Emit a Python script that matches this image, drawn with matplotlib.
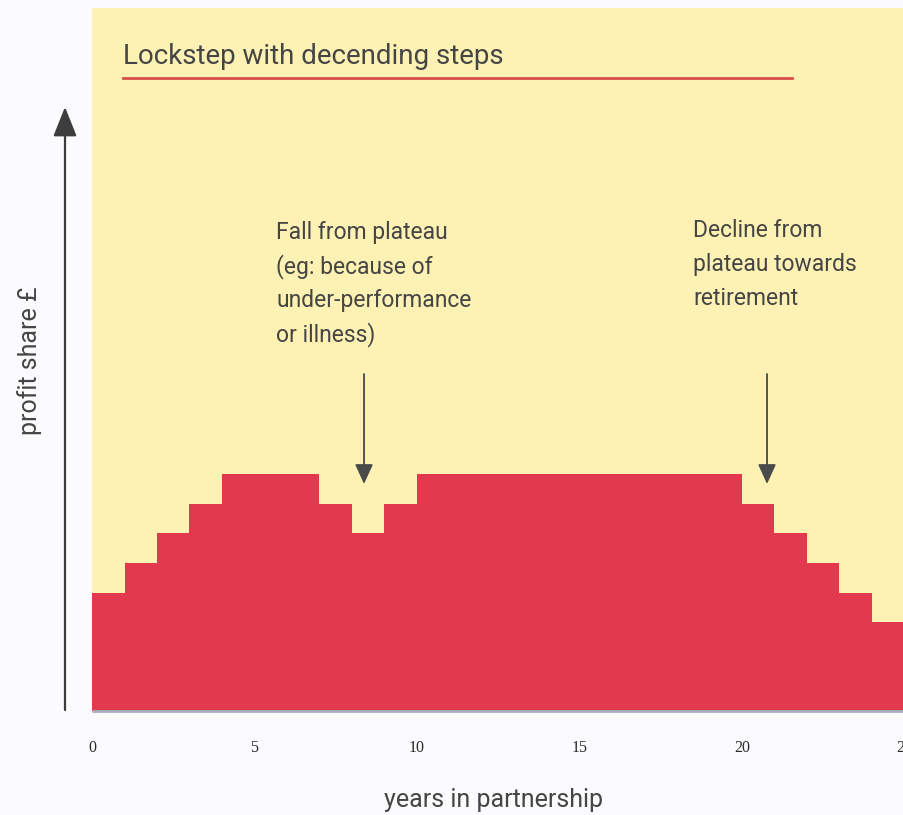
import matplotlib
matplotlib.use("Agg")
import matplotlib.pyplot as plt
import numpy as np

# ---- data ----
years = list(range(0, 26))                      # step edges (years in partnership)
profit_steps = [4, 5, 6, 7, 8, 8, 8, 7, 6, 7,
                8, 8, 8, 8, 8, 8, 8, 8, 8, 8,
                7, 6, 5, 4, 3]                   # profit share level per year
tick_years = [0, 5, 10, 15, 20, 25]
tick_labels = ["0", "5", "10", "15", "20", "25"]
title = "Lockstep with decending steps"
note1 = ["Fall from plateau", "(eg: because of", "under-performance", "or illness)"]
note2 = ["Decline from", "plateau towards", "retirement"]
note1_year = 8.37
note2_year = 20.77

# ---- style ----
W, H = 904, 815
YELLOW = "#fdf2b3"
RED = "#e2394f"
TXT = "#454545"
SANS = "Roboto"

fig = plt.figure(figsize=(W / 100, H / 100), dpi=100)
fig.patch.set_facecolor("#fbfbfd")

px_per_year = 32.5
px_per_unit = 29.6
left_px, base_px, top_px = 92, 711, 8
xmax = 25.3
ymax = (base_px - top_px) / px_per_unit

ax = fig.add_axes([left_px / W, (H - base_px) / H, xmax * px_per_year / W, (base_px - top_px) / H])
ax.set_facecolor(YELLOW)
ax.set_xlim(0, xmax)
ax.set_ylim(0, ymax)
for s in ax.spines.values():
    s.set_visible(False)

ax.stairs(profit_steps, years, fill=True, color=RED, lw=0)
ax.plot([0, xmax], [0, 0], color="#a7afc0", lw=2, clip_on=False, solid_capstyle="butt")

ax.set_yticks([])
ax.set_xticks(tick_years)
ax.set_xticklabels(tick_labels, family="Liberation Serif", fontsize=11.5, color="#2a2a2a")
ax.tick_params(axis="x", length=0, pad=21)

# title and underline
ax.text(0.95, 22.1, title, family=SANS, fontsize=20, color=TXT, va="center", ha="left")
ax.plot([0.95, 21.54], [21.39, 21.39], color="#d9504a", lw=2)

# annotation texts
def put_lines(lines, x, y_top):
    for i, line in enumerate(lines):
        ax.text(x, y_top - i * 34 / px_per_unit, line, family=SANS, fontsize=16.5,
                color=TXT, va="baseline", ha="left")

put_lines(note1, (276 - left_px) / px_per_year, (base_px - 239) / px_per_unit)
put_lines(note2, (693 - left_px) / px_per_year, (base_px - 237) / px_per_unit)

arrow_kw = dict(arrowstyle="-|>,head_length=0.55,head_width=0.25", mutation_scale=22,
                color="#4a4a4a", lw=1.3, shrinkA=0, shrinkB=0)
for xv in (note1_year, note2_year):
    ax.annotate("", xy=(xv, (base_px - 484) / px_per_unit),
                xytext=(xv, (base_px - 374) / px_per_unit), arrowprops=arrow_kw)

# y-axis arrow (outside the panel)
fig_arrow = dict(arrowstyle="-|>,head_length=0.7,head_width=0.28", mutation_scale=26,
                 color="#3d3d3d", lw=1.6, shrinkA=0, shrinkB=0)
ax.annotate("", xy=(65, H - 107), xytext=(65, H - 710), xycoords="figure pixels",
            textcoords="figure pixels", arrowprops=fig_arrow, annotation_clip=False)

fig.text(30 / W, 1 - 361 / H, "profit share £", rotation=90, family=SANS, fontsize=18,
         color=TXT, ha="center", va="center")
fig.text(494 / W, 1 - 800 / H, "years in partnership", family=SANS, fontsize=18,
         color=TXT, ha="center", va="center")

fig.savefig("out.png", dpi=100, facecolor=fig.get_facecolor())
